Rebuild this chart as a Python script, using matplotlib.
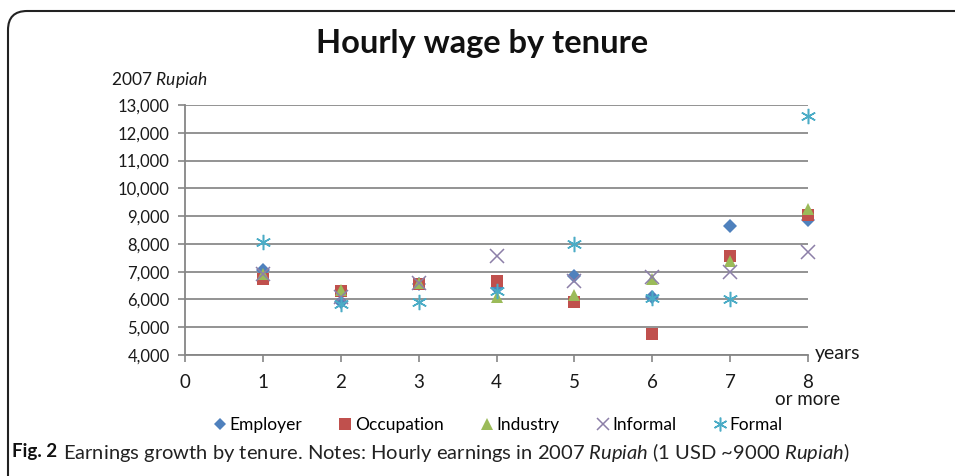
import numpy as np
import matplotlib.pyplot as plt
from matplotlib.patches import FancyBboxPatch
from matplotlib.ticker import FuncFormatter

plt.rcParams['font.family'] = ['Lato', 'DejaVu Sans']
plt.rcParams['mathtext.fontset'] = 'custom'
plt.rcParams['mathtext.rm'] = 'Lato'
plt.rcParams['mathtext.it'] = 'Lato:italic'

# Datos
tenure = np.array([1, 2, 3, 4, 5, 6, 7, 8])
employer = [7050, 5900, 6550, 6400, 6850, 6100, 8650, 8850]
occupation = [6750, 6300, 6550, 6650, 5900, 4750, 7550, 9050]
industry = [6900, 6350, 6600, 6100, 6150, 6750, 7400, 9250]
informal = [6900, 6100, 6600, 7550, 6650, 6800, 7000, 7700]
formal = [8050, 5850, 5900, 6300, 8000, 6050, 6000, 12600]

series = [
    ('Employer', employer, 'D', '#4F81BD', 7),
    ('Occupation', occupation, 's', '#C0504D', 9),
    ('Industry', industry, '^', '#9BBB59', 9),
    ('Informal', informal, 'x', '#8C7FA8', 10),
    ('Formal', formal, (6, 2, 0), '#4BACC6', 11),
]

x_labels = ['0', '1', '2', '3', '4', '5', '6', '7', '8\nor more']

fig = plt.figure(figsize=(9.55, 4.76), dpi=100)
ax = fig.add_axes([185/955, 1 - 355/476, (808 - 185)/955, (355 - 105)/476])

for name, vals, mk, col, sz in series:
    if mk in ('x', (6, 2, 0)):
        ax.plot(tenure, vals, linestyle='none', marker=mk, color=col,
                markersize=sz, markeredgewidth=1.1, label=name, clip_on=False)
    else:
        ax.plot(tenure, vals, linestyle='none', marker=mk, color=col,
                markersize=sz, markeredgewidth=0, label=name, clip_on=False)

ax.set_xlim(0, 8)
ax.set_ylim(4000, 13000)
ax.set_xticks(range(0, 9))
ax.set_xticklabels(x_labels, fontsize=13.5, color='#1a1a1a', linespacing=0.95)
ax.set_yticks(np.arange(4000, 13001, 1000))
ax.yaxis.set_major_formatter(FuncFormatter(lambda v, p: f'{int(v):,}'))
ax.tick_params(axis='y', labelsize=12, colors='#868686', labelcolor='#1a1a1a',
               direction='out', length=5, width=1.2, pad=6)
ax.tick_params(axis='x', colors='#868686', labelcolor='#1a1a1a',
               direction='out', length=5, width=1.2, pad=9)
ax.grid(axis='y', color='#8a8a8a', linewidth=1.3)
ax.set_axisbelow(True)
for s in ['top', 'right']:
    ax.spines[s].set_visible(False)
for s in ['left', 'bottom']:
    ax.spines[s].set_color('#868686')
    ax.spines[s].set_linewidth(1.3)

fig.text(482/955, 1 - 44/476, 'Hourly wage by tenure', ha='center', va='center',
         fontsize=23.5, fontweight='bold', color='#111111')
fig.text(111/955, 1 - 80/476, '2007 $\\it{Rupiah}$', ha='left', va='center',
         fontsize=12.5, color='#1a1a1a')
fig.text(815/955, 1 - 353/476, 'years', ha='left', va='center', fontsize=14, color='#1a1a1a')

fig.legend(loc='center', bbox_to_anchor=(497/955, 1 - 425/476), ncol=5, frameon=False,
           fontsize=12.5, handletextpad=0.05, columnspacing=2.0, handlelength=1.0,
           markerscale=0.9)

fig.text(12/955, 1 - 452/476, 'Fig. 2', ha='left', va='center', fontsize=13.5,
         fontweight='bold', color='#111111')
fig.text(63/955, 1 - 452/476,
         'Earnings growth by tenure. Notes: Hourly earnings in 2007 $\\it{Rupiah}$ (1 USD ~9000 $\\it{Rupiah}$)',
         ha='left', va='center', fontsize=14.5, color='#222222')

box = FancyBboxPatch((8/955, -0.2), 1.1, 1 - 11/476 + 0.2,
                     boxstyle='round,pad=0,rounding_size=0.02',
                     transform=fig.transFigure, fill=False, edgecolor='#222222',
                     linewidth=1.5, mutation_aspect=2.0)
fig.patches.append(box)

fig.savefig('out.png', dpi=100)
